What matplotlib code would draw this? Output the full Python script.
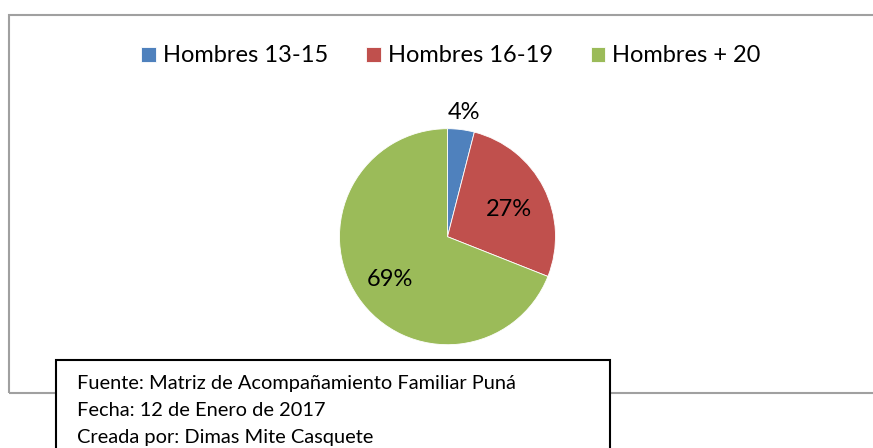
import matplotlib
matplotlib.use("Agg")
import matplotlib.pyplot as plt
import matplotlib.transforms as mtransforms
import numpy as np
from matplotlib.patches import Rectangle

plt.rcParams['font.family'] = ['Lato', 'DejaVu Sans']

# data
categories = ['Hombres 13-15', 'Hombres 16-19', 'Hombres + 20']
shares = [4, 27, 69]
colors = ['#4F81BD', '#C0504D', '#9BBB59']
note_lines = [
    'Fuente: Matriz de Acompañamiento Familiar Puná',
    'Fecha: 12 de Enero de 2017',
    'Creada por: Dimas Mite Casquete',
]

W, H = 873, 448
fig = plt.figure(figsize=(W / 100, H / 100), dpi=100)


def fx(px):
    return px / W


def fy(py):
    return 1 - py / H


# outer chart frame (right side runs past the picture edge)
fig.patches.append(Rectangle((fx(9), fy(393)), fx(880 - 9), fy(15) - fy(393),
                             transform=fig.transFigure, fill=False,
                             edgecolor='#A0A0A0', linewidth=1.5))

# pie
cx, cy, r = 447.5, 236.7, 108
ax = fig.add_axes([fx(cx - r), fy(cy + r), fx(2 * r), 2 * r / H])
wedges, texts, autotexts = ax.pie(shares, colors=colors, startangle=90,
                                  counterclock=False, autopct='%1.0f%%',
                                  pctdistance=0.64,
                                  wedgeprops=dict(edgecolor='white', linewidth=0.6),
                                  textprops=dict(fontsize=17, color='black'))
# small slice label sits outside the pie
w0 = wedges[0]
mid = np.deg2rad((w0.theta1 + w0.theta2) / 2)
autotexts[0].set_position((1.2 * np.cos(mid), 1.2 * np.sin(mid)))
shift = mtransforms.ScaledTranslation(0, -4 / 100, fig.dpi_scale_trans)
for t in autotexts:
    t.set_transform(ax.transData + shift)
ax.set_xlim(-1, 1)
ax.set_ylim(-1, 1)
ax.axis('off')

# legend
fig.legend(wedges, categories, loc='center', ncol=3, frameon=False,
           bbox_to_anchor=(fx(451), fy(56)), fontsize=17,
           handlelength=0.62, handleheight=0.62, handletextpad=0.3,
           columnspacing=1.6)

# note box
fig.patches.append(Rectangle((fx(56), fy(460)), fx(610 - 56), fy(360) - fy(460),
                             transform=fig.transFigure, facecolor='white',
                             edgecolor='black', linewidth=1.5, zorder=5))
for i, line in enumerate(note_lines):
    fig.text(fx(77), fy(384 + 26.5 * i), line, fontsize=14.4, va='center',
             ha='left', zorder=6)

fig.savefig('out.png', dpi=100)
